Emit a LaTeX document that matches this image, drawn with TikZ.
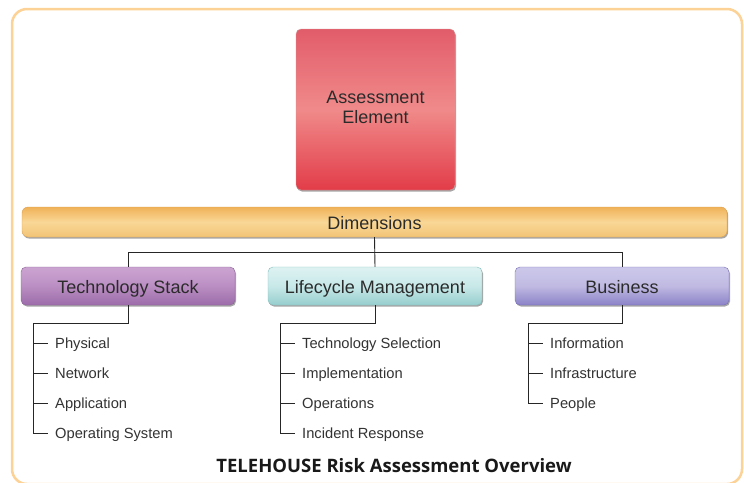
\documentclass[tikz,border=0pt]{standalone}
\usepackage{fontspec}
\setmainfont{Liberation Sans}
\newfontfamily\titlefont{Open Sans}
\usetikzlibrary{shadows}
\definecolor{frameorange}{HTML}{FDD296}
\definecolor{txtdark}{HTML}{2B2B2B}
\definecolor{lsttxt}{HTML}{333333}
\tikzset{
  boxbase/.style={rounded corners=5pt, align=center, text=txtdark,
    font=\fontsize{18}{21}\selectfont, inner sep=0pt,
    drop shadow={shadow xshift=1pt, shadow yshift=-1.5pt, opacity=0.35, fill=black}},
  onel/.style={text height=14.5pt, text depth=0pt},
  redbox/.style={boxbase, draw=red!60!black!40, top color={rgb,255:red,226;green,92;blue,106},
    bottom color={rgb,255:red,226;green,60;blue,72}, middle color={rgb,255:red,240;green,138;blue,138},
    minimum width=159pt, minimum height=161pt},
  orangebar/.style={boxbase, onel, draw={rgb,255:red,220;green,160;blue,80}, top color={rgb,255:red,240;green,178;blue,88},
    bottom color={rgb,255:red,242;green,196;blue,118}, middle color={rgb,255:red,249;green,215;blue,150},
    minimum width=705pt, minimum height=30pt, rounded corners=6pt},
  purplebox/.style={boxbase, onel, draw={rgb,255:red,140;green,100;blue,150}, top color={rgb,255:red,204;green,164;blue,210},
    bottom color={rgb,255:red,156;green,108;blue,170}, middle color={rgb,255:red,186;green,142;blue,194},
    minimum width=214pt, minimum height=38pt},
  cyanbox/.style={boxbase, onel, draw={rgb,255:red,130;green,190;blue,190}, top color={rgb,255:red,222;green,242;blue,242},
    bottom color={rgb,255:red,150;green,206;blue,206}, middle color={rgb,255:red,200;green,232;blue,232},
    minimum width=214pt, minimum height=38pt},
  lavbox/.style={boxbase, onel, draw={rgb,255:red,120;green,112;blue,180}, top color={rgb,255:red,204;green,200;blue,234},
    bottom color={rgb,255:red,138;green,130;blue,200}, middle color={rgb,255:red,192;green,186;blue,226},
    minimum width=214pt, minimum height=38pt},
  item/.style={anchor=west, inner xsep=7pt, inner ysep=0pt, text=lsttxt,
    text height=12pt, text depth=1.5pt,
    font=\fontsize{14.7}{17}\selectfont},
  conn/.style={draw=black!85, line width=0.9pt},
}
\begin{document}
\begin{tikzpicture}[x=1pt,y=-1pt]
\useasboundingbox (0,0) rectangle (744,482);
\fill[white] (0,0) rectangle (744,482);
\draw[frameorange, line width=2.5pt, rounded corners=15pt] (12,9) rectangle (742,484);

\node[redbox] (ae) at (375.5,109.5) {\raisebox{4pt}{\begin{tabular}{@{}c@{}}Assessment\\[-1pt]Element\end{tabular}}};
\node[orangebar] (dim) at (374.5,222) {Dimensions};
\node[purplebox] (ts) at (128,286) {Technology Stack};
\node[cyanbox] (lm) at (375,286) {Lifecycle Management};
\node[lavbox] (bu) at (622,286) {Business};

% connectors dimensions -> categories
\draw[conn] (dim.south) -- (lm.north);
\draw[conn] (ts.north) -- ++(0,-14) -| (bu.north);

% Technology Stack list
\node[item] (t1) at (48,343) {Physical};
\node[item] (t2) at (48,373) {Network};
\node[item] (t3) at (48,403) {Application};
\node[item] (t4) at (48,433) {Operating System};
\draw[conn] (ts.south) -- ++(0,18) -| ([xshift=-15pt]t4.west) -- (t4.west);
\foreach \n in {t1,t2,t3} \draw[conn] ([xshift=-15pt]\n.west) -- (\n.west);

% Lifecycle list
\node[item] (l1) at (295,343) {Technology Selection};
\node[item] (l2) at (295,373) {Implementation};
\node[item] (l3) at (295,403) {Operations};
\node[item] (l4) at (295,433) {Incident Response};
\draw[conn] (lm.south) -- ++(0,18) -| ([xshift=-15pt]l4.west) -- (l4.west);
\foreach \n in {l1,l2,l3} \draw[conn] ([xshift=-15pt]\n.west) -- (\n.west);

% Business list
\node[item] (b1) at (543,343) {Information};
\node[item] (b2) at (543,373) {Infrastructure};
\node[item] (b3) at (543,403) {People};
\draw[conn] (bu.south) -- ++(0,18) -| ([xshift=-15pt]b3.west) -- (b3.west);
\foreach \n in {b1,b2} \draw[conn] ([xshift=-15pt]\n.west) -- (\n.west);

\node[font=\titlefont\bfseries\fontsize{18.5}{22}\selectfont, text=black!90] (title) at (394,466) {TELEHOUSE Risk Assessment Overview};
\end{tikzpicture}
\end{document}
